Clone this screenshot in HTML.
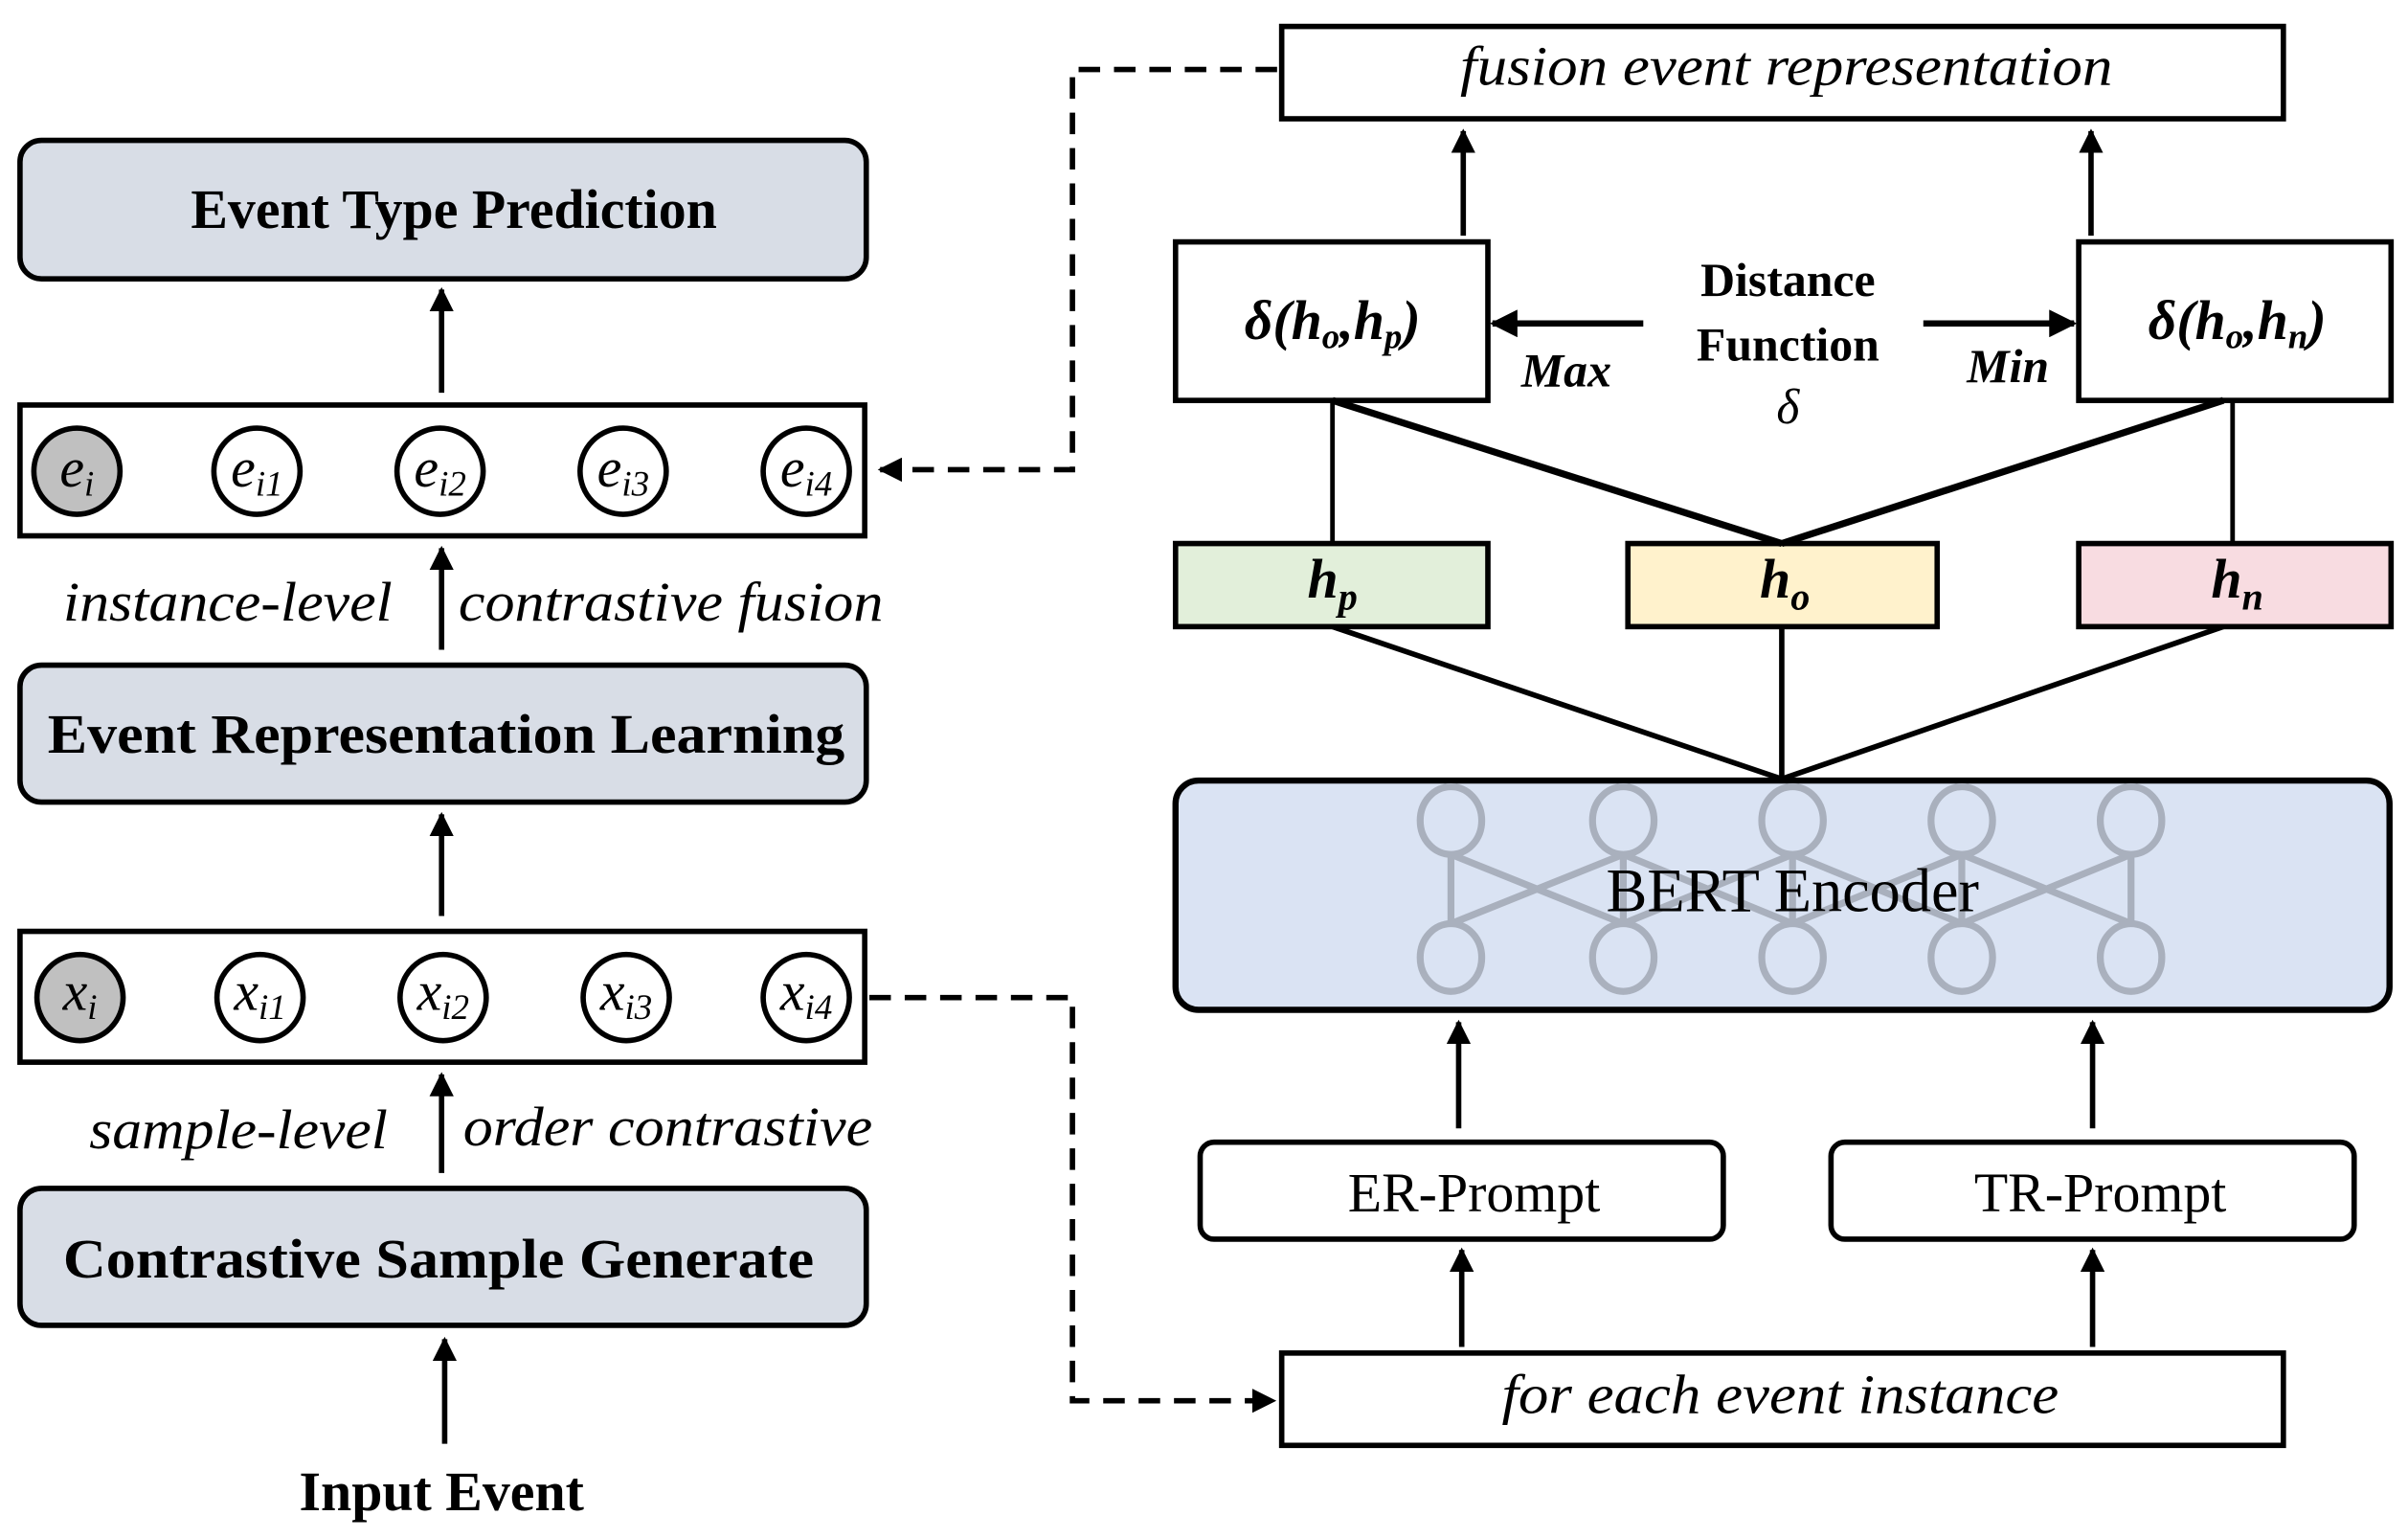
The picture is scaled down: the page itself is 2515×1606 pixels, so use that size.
<!DOCTYPE html>
<html><head><meta charset="utf-8"><style>html,body{margin:0;padding:0;background:#fff}svg{display:block}</style></head><body>
<svg width="2515" height="1606" viewBox="0 0 1565 999" xmlns="http://www.w3.org/2000/svg" font-family="'Liberation Serif', 'DejaVu Serif', serif">
<defs>
<marker id="a" viewBox="0 0 10 10" refX="9" refY="5" markerWidth="4.5" markerHeight="4.5" orient="auto"><path d="M0,0L10,5L0,10z" fill="#000"/></marker>
</defs>
<g stroke="#000" stroke-width="3.5" fill="none">
<rect x="13" y="91" width="550" height="90" rx="14" fill="#d8dde6"/>
<rect x="13" y="263" width="549" height="85" fill="#fff"/>
<rect x="13" y="432" width="550" height="89" rx="14" fill="#d8dde6"/>
<rect x="13" y="605" width="549" height="85" fill="#fff"/>
<rect x="13" y="772" width="550" height="89" rx="14" fill="#d8dde6"/>
<circle cx="50" cy="306" r="28" fill="#c0c0c0"/><circle cx="167" cy="306" r="28"/><circle cx="286" cy="306" r="28"/><circle cx="405" cy="306" r="28"/><circle cx="524" cy="306" r="28"/>
<circle cx="52" cy="648" r="28" fill="#c0c0c0"/><circle cx="169" cy="648" r="28"/><circle cx="288" cy="648" r="28"/><circle cx="407" cy="648" r="28"/><circle cx="524" cy="648" r="28"/>
<g marker-end="url(#a)">
<line x1="287" y1="255" x2="287" y2="188"/>
<line x1="287" y1="422" x2="287" y2="356"/>
<line x1="287" y1="595" x2="287" y2="529"/>
<line x1="287" y1="762" x2="287" y2="698"/>
<line x1="289" y1="938" x2="289" y2="870"/>
<line x1="951" y1="153" x2="951" y2="85"/>
<line x1="1359" y1="153" x2="1359" y2="85"/>
<line x1="948" y1="733" x2="948" y2="664"/>
<line x1="1360" y1="733" x2="1360" y2="664"/>
<line x1="950" y1="875" x2="950" y2="812"/>
<line x1="1360" y1="875" x2="1360" y2="812"/>
<line x1="1068" y1="210" x2="970" y2="210" stroke-width="4"/>
<line x1="1250" y1="210" x2="1348" y2="210" stroke-width="4"/>
</g>
<g stroke-dasharray="14,9" stroke-width="3.5">
<path d="M830,45H697V305H572" marker-end="url(#a)"/>
<path d="M565,648H697V910H828" marker-end="url(#a)"/>
</g>
<rect x="833" y="17" width="651" height="60" fill="#fff"/>
<rect x="764" y="157" width="203" height="103" fill="#fff"/>
<rect x="1351" y="157" width="203" height="103" fill="#fff"/>
<rect x="764" y="353" width="203" height="54" fill="#e2efda"/>
<rect x="1058" y="353" width="201" height="54" fill="#fff2cc"/>
<rect x="1351" y="353" width="203" height="54" fill="#f8dce1"/>
<line x1="866" y1="260" x2="866" y2="353" stroke-width="3"/>
<line x1="1451" y1="260" x2="1451" y2="353" stroke-width="3"/>
<line x1="866" y1="260" x2="1158" y2="353" stroke-width="4.5"/>
<line x1="1445" y1="260" x2="1158" y2="353" stroke-width="4.5"/>
<line x1="866" y1="407" x2="1158" y2="506" stroke-width="3.5"/>
<line x1="1158" y1="407" x2="1158" y2="506" stroke-width="3.5"/>
<line x1="1445" y1="407" x2="1158" y2="506" stroke-width="3.5"/>
<rect x="764" y="507" width="789" height="149" rx="15" fill="#dae3f3" stroke-width="4"/>
<rect x="780" y="742" width="340" height="63" rx="9" fill="#fff"/>
<rect x="1190" y="742" width="340" height="63" rx="9" fill="#fff"/>
<rect x="833" y="879" width="651" height="60" fill="#fff"/>
</g>
<g stroke="#a4abb8" stroke-width="4.5" fill="none" opacity="0.9">
<path d="M943,555V600M1055,555V600M1165,555V600M1275,555V600M1385,555V600"/>
<path d="M943,555L1055,600M943,600L1055,555M1055,555L1165,600M1055,600L1165,555M1165,555L1275,600M1165,600L1275,555M1275,555L1385,600M1275,600L1385,555"/>
<ellipse cx="943" cy="533" rx="20" ry="22"/><ellipse cx="1055" cy="533" rx="20" ry="22"/><ellipse cx="1165" cy="533" rx="20" ry="22"/><ellipse cx="1275" cy="533" rx="20" ry="22"/><ellipse cx="1385" cy="533" rx="20" ry="22"/>
<ellipse cx="943" cy="622" rx="20" ry="22"/><ellipse cx="1055" cy="622" rx="20" ry="22"/><ellipse cx="1165" cy="622" rx="20" ry="22"/><ellipse cx="1275" cy="622" rx="20" ry="22"/><ellipse cx="1385" cy="622" rx="20" ry="22"/>
</g>
<g font-size="36" font-weight="bold" text-anchor="middle">
<text x="295" y="148">Event Type Prediction</text>
<text x="290" y="489" textLength="518" lengthAdjust="spacingAndGlyphs">Event Representation Learning</text>
<text x="285" y="830" textLength="488" lengthAdjust="spacingAndGlyphs">Contrastive Sample Generate</text>
<text x="287" y="981">Input Event</text>
<text x="1162" y="192" font-size="31">Distance</text>
<text x="1162" y="234" font-size="31">Function</text>
</g>
<g font-size="36" font-style="italic" text-anchor="middle">
<text x="148" y="403" textLength="214" lengthAdjust="spacingAndGlyphs">instance-level</text>
<text x="436" y="403" textLength="276" lengthAdjust="spacingAndGlyphs">contrastive fusion</text>
<text x="155" y="746" textLength="194" lengthAdjust="spacingAndGlyphs">sample-level</text>
<text x="434" y="744" textLength="266" lengthAdjust="spacingAndGlyphs">order contrastive</text>
<text x="1161" y="55" textLength="424" lengthAdjust="spacingAndGlyphs">fusion event representation</text>
<text x="1157" y="918" textLength="362" lengthAdjust="spacingAndGlyphs">for each event instance</text>
<text x="1162" y="275" font-size="32">δ</text>
<text x="1018" y="251" font-size="31" font-weight="bold">Max</text>
<text x="1305" y="248" font-size="31" font-weight="bold">Min</text>
</g>
<g font-size="36" font-style="italic" text-anchor="middle">
<text x="50" y="316">e<tspan font-size="23" dy="6">i</tspan></text>
<text x="167" y="316">e<tspan font-size="23" dy="6">i1</tspan></text>
<text x="286" y="316">e<tspan font-size="23" dy="6">i2</tspan></text>
<text x="405" y="316">e<tspan font-size="23" dy="6">i3</tspan></text>
<text x="524" y="316">e<tspan font-size="23" dy="6">i4</tspan></text>
<text x="52" y="656">x<tspan font-size="23" dy="6">i</tspan></text>
<text x="169" y="656">x<tspan font-size="23" dy="6">i1</tspan></text>
<text x="288" y="656">x<tspan font-size="23" dy="6">i2</tspan></text>
<text x="407" y="656">x<tspan font-size="23" dy="6">i3</tspan></text>
<text x="524" y="656">x<tspan font-size="23" dy="6">i4</tspan></text>
</g>
<g font-size="36" font-style="italic" font-weight="bold" text-anchor="middle">
<text x="866" y="220">δ(h<tspan font-size="23" dy="6">o</tspan><tspan dy="-6">,h</tspan><tspan font-size="23" dy="6">p</tspan><tspan dy="-6">)</tspan></text>
<text x="1454" y="220">δ(h<tspan font-size="23" dy="6">o</tspan><tspan dy="-6">,h</tspan><tspan font-size="23" dy="6">n</tspan><tspan dy="-6">)</tspan></text>
<text x="866" y="388">h<tspan font-size="25" dy="8">p</tspan></text>
<text x="1160" y="388">h<tspan font-size="25" dy="8">o</tspan></text>
<text x="1454" y="388">h<tspan font-size="25" dy="8">n</tspan></text>
</g>
<g font-size="40" text-anchor="middle">
<text x="1165" y="592">BERT Encoder</text>
<text x="958" y="787" font-size="36">ER-Prompt</text>
<text x="1365" y="787" font-size="36">TR-Prompt</text>
</g>
</svg>
</body></html>
